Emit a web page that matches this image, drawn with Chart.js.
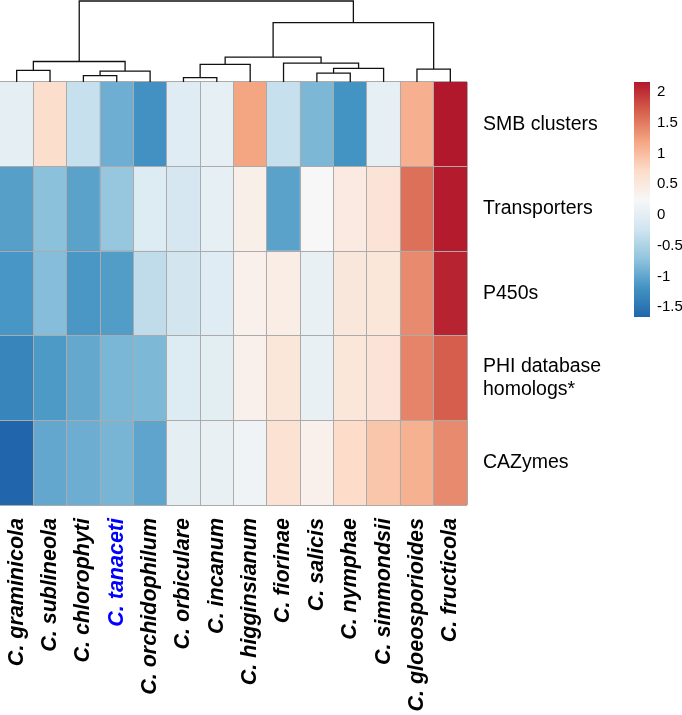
<!DOCTYPE html>
<html><head><meta charset="utf-8">
<script src="https://cdn.jsdelivr.net/npm/chart.js@4.4.1/dist/chart.umd.min.js"></script>
<style>
html,body{margin:0;padding:0;background:#fff;}
#wrap{position:relative;width:682px;height:715px;overflow:hidden;background:#fff;}
canvas{position:absolute;left:0;top:0;}
</style></head><body>
<div id="wrap">
<canvas id="heat" width="682" height="715" style="width:682px;height:715px"></canvas>
<canvas id="dend" width="467" height="82" style="width:467px;height:82px"></canvas>
<canvas id="leg" width="682" height="715" style="width:682px;height:715px"></canvas>
</div>
<script>
// ---------- data ----------
const species = ['C. graminicola','C. sublineola','C. chlorophyti','C. tanaceti','C. orchidophilum',
  'C. orbiculare','C. incanum','C. higginsianum','C. fiorinae','C. salicis','C. nymphae',
  'C. simmondsii','C. gloeosporioides','C. fructicola'];
const highlighted = 'C. tanaceti';
const rowLabels = ['SMB clusters','Transporters','P450s',['PHI database','homologs*'],'CAZymes'];
const smbClusters  = [0.01, 0.68, -0.30, -0.92, -1.20, -0.05, 0.04, 1.20, -0.30, -0.84, -1.18, 0.04, 1.11, 2.16];
const transporters = [-1.07, -0.74, -1.04, -0.67, -0.08, -0.17, 0.04, 0.39, -1.04, 0.25, 0.47, 0.57, 1.57, 2.14];
const p450s        = [-1.15, -0.78, -1.14, -1.09, -0.36, -0.20, -0.05, 0.37, 0.42, 0.06, 0.52, 0.54, 1.39, 2.09];
const phiHomologs  = [-1.33, -1.12, -0.98, -0.85, -0.83, -0.08, 0.00, 0.37, 0.54, 0.06, 0.54, 0.57, 1.43, 1.69];
const cazymes      = [-1.66, -0.99, -0.93, -0.86, -1.02, 0.01, 0.06, 0.15, 0.61, 0.37, 0.71, 0.92, 1.10, 1.39];
const legendTicks  = [-1.5, -1, -0.5, 0, 0.5, 1, 1.5, 2];
// column dendrogram (R hclust style): negative = leaf -(index+1), positive = earlier merge (1-based)
const mergeLeft   = [-1, -3, 2, 1, -6, 5, -10, 7, -9, 6, -13, 10, 4];
const mergeRight  = [-2, -4, -5, 3, -7, -8, -11, -12, 8, 9, -14, 11, 12];
const mergeHeight = [11.6, 6.3, 11.0, 20.6, 4.3, 17.6, 9.0, 13.6, 19.0, 25.0, 13.0, 59.6, 81.3];

// ---------- colours ----------
const PAL = ['#2166AC','#4393C3','#92C5DE','#D1E5F0','#F7F7F7','#FDDBC7','#F4A582','#D6604D','#B2182B'];
const rowsTopDown = [smbClusters, transporters, p450s, phiHomologs, cazymes];
const allVals = rowsTopDown.flat();
const VMIN = Math.min(...allVals), VMAX = Math.max(...allVals);
function hex2rgb(h){return [parseInt(h.substr(1,2),16),parseInt(h.substr(3,2),16),parseInt(h.substr(5,2),16)];}
const PALRGB = PAL.map(hex2rgb);
function colorFor(v){
  let t = (v - VMIN) / (VMAX - VMIN);
  t = Math.max(0, Math.min(1, t)) * (PAL.length - 1);
  const i = Math.min(Math.floor(t), PAL.length - 2), f = t - i;
  const a = PALRGB[i], b = PALRGB[i+1];
  const c = a.map((x,k) => Math.round(x + (b[k]-x)*f));
  return `rgb(${c[0]},${c[1]},${c[2]})`;
}

Chart.defaults.font.family = "'Liberation Sans', Arial, sans-serif";
Chart.defaults.color = '#000';
const GRID = '#ABABAB';
const nRows = rowsTopDown.length;

// ---------- heatmap ----------
new Chart(document.getElementById('heat'), {
  type: 'bar',
  data: {
    labels: species,
    datasets: rowsTopDown.slice().reverse().map(vals => ({
      data: vals.map(() => 1),
      backgroundColor: vals.map(colorFor),
      borderWidth: 0,
      barPercentage: 1,
      categoryPercentage: 1,
      stack: 'rows'
    }))
  },
  options: {
    responsive: false, animation: false, events: [],
    layout: {padding: {top: 82, left: 0, right: 0, bottom: 0}},
    plugins: {legend: {display: false}, tooltip: {enabled: false}},
    scales: {
      x: {
        stacked: true,
        grid: {display: true, offset: true, color: GRID, lineWidth: 1, drawTicks: false, z: 1},
        border: {display: false},
        ticks: {
          autoSkip: false, minRotation: 90, maxRotation: 90, padding: 13,
          font: {size: 21.5, weight: 'bold', style: 'italic'},
          color: c => species[c.index] === highlighted ? '#0000FF' : '#000'
        },
        afterFit: s => { s.height = 210; }
      },
      y: {
        stacked: true, position: 'right', min: 0, max: nRows,
        grid: {display: true, offset: true, color: GRID, lineWidth: 1, drawTicks: false, z: 1},
        border: {display: false},
        afterBuildTicks: s => { s.ticks = rowLabels.map((_, i) => ({value: i + 0.5})); },
        ticks: {
          padding: 16, font: {size: 19.5},
          callback: v => rowLabels[nRows - 1 - Math.floor(v)]
        },
        afterFit: s => { s.width = 215; }
      }
    }
  }
});

// ---------- dendrogram ----------
const nodeX = [], nodeH = [];
function ref(id){ return id < 0 ? {x: -id - 1, h: 0} : {x: nodeX[id-1], h: nodeH[id-1]}; }
const dendPts = [];
mergeHeight.forEach((h, m) => {
  const L = ref(mergeLeft[m]), R = ref(mergeRight[m]);
  nodeX[m] = (L.x + R.x) / 2; nodeH[m] = h;
  dendPts.push({x: L.x, y: L.h}, {x: L.x, y: h}, {x: R.x, y: h}, {x: R.x, y: R.h}, {x: R.x, y: null});
});
new Chart(document.getElementById('dend'), {
  type: 'scatter',
  data: {datasets: [{data: dendPts, showLine: true, spanGaps: false, borderColor: '#111',
    borderWidth: 1.3, pointRadius: 0, tension: 0, clip: 4}]},
  options: {
    responsive: false, animation: false, events: [],
    layout: {padding: 0},
    plugins: {legend: {display: false}, tooltip: {enabled: false}},
    scales: {
      x: {type: 'linear', min: -0.5, max: species.length - 0.5, display: false},
      y: {type: 'linear', min: 0, max: 82.3, display: false}
    }
  }
});

// ---------- colour legend ----------
new Chart(document.getElementById('leg'), {
  type: 'bar',
  data: {labels: [''], datasets: [{
    data: [[VMIN, VMAX]], barPercentage: 1, categoryPercentage: 1, borderWidth: 0,
    backgroundColor: ctx => {
      const ch = ctx.chart, ys = ch.scales.y;
      if (!ch.chartArea || !ys) return PAL[4];
      const g = ch.ctx.createLinearGradient(0, ys.getPixelForValue(VMIN), 0, ys.getPixelForValue(VMAX));
      PAL.forEach((c, i) => g.addColorStop(i / (PAL.length - 1), c));
      return g;
    }
  }]},
  options: {
    responsive: false, animation: false, events: [],
    layout: {padding: {left: 634, top: 82, bottom: 398, right: 0}},
    plugins: {legend: {display: false}, tooltip: {enabled: false}},
    scales: {
      x: {display: false},
      y: {
        position: 'right', min: VMIN, max: VMAX,
        grid: {display: false, drawTicks: false}, border: {display: false},
        afterBuildTicks: s => { s.ticks = legendTicks.map(v => ({value: v})); },
        ticks: {padding: 7, font: {size: 15}, callback: v => String(v)},
        afterFit: s => { s.width = 32; }
      }
    }
  }
});
</script>
</body></html>
